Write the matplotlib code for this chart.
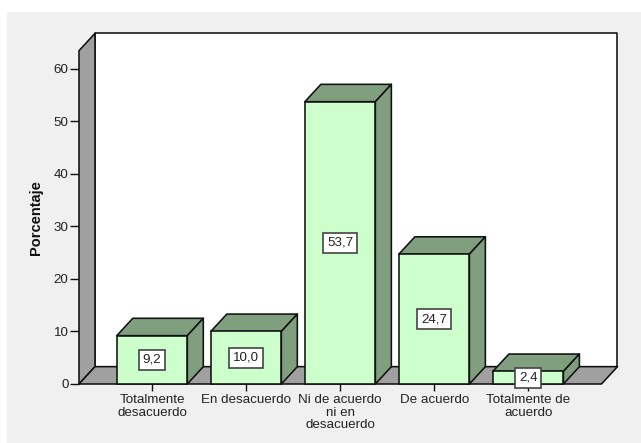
"""Bar chart with SPSS-style pseudo 3D boxes: Porcentaje per response."""

from __future__ import annotations

import matplotlib

matplotlib.use("Agg")
import matplotlib.pyplot as plt
from matplotlib.patches import Polygon, Rectangle

CATEGORIES = ["Totalmente\ndesacuerdo", "En desacuerdo", "Ni de acuerdo\nni en\ndesacuerdo",
              "De acuerdo", "Totalmente de\nacuerdo"]
VALUES = [9.2, 10.0, 53.7, 24.7, 2.4]
VALUE_LABELS = ["9,2", "10,0", "53,7", "24,7", "2,4"]
Y_TICKS = [0, 10, 20, 30, 40, 50, 60]

COLOR_BG = "#f0f0f0"
COLOR_WALL = "#a0a0a0"
COLOR_FRONT = "#ccffcc"
COLOR_SIDE = "#7f9f7f"
COLOR_LINE = "#111111"
COLOR_TEXT = "#222222"

# Pseudo 3D offset of the back plane, in data units
DEPTH_X = 0.17
DEPTH_Y = 3.3
BAR_WIDTH = 0.75
LW = 1.15

plt.rcParams["font.family"] = ["Liberation Sans", "DejaVu Sans"]


def add_poly(ax, points, color, zorder):
    ax.add_patch(Polygon(points, closed=True, facecolor=color, edgecolor=COLOR_LINE,
                         linewidth=LW, joinstyle="round", clip_on=False, zorder=zorder))


def draw_walls(ax):
    x0, x1 = ax.get_xlim()
    top = ax.get_ylim()[1]
    add_poly(ax, [(x0 + DEPTH_X, DEPTH_Y), (x1 + DEPTH_X, DEPTH_Y),
                  (x1 + DEPTH_X, top + DEPTH_Y), (x0 + DEPTH_X, top + DEPTH_Y)], "white", 1)
    add_poly(ax, [(x0, 0), (x0 + DEPTH_X, DEPTH_Y), (x0 + DEPTH_X, top + DEPTH_Y), (x0, top)],
             COLOR_WALL, 2)
    add_poly(ax, [(x0, 0), (x1, 0), (x1 + DEPTH_X, DEPTH_Y), (x0 + DEPTH_X, DEPTH_Y)],
             COLOR_WALL, 2)


def draw_box(ax, pos, value, zorder):
    left = pos - BAR_WIDTH / 2
    right = pos + BAR_WIDTH / 2
    add_poly(ax, [(left, value), (right, value), (right + DEPTH_X, value + DEPTH_Y),
                  (left + DEPTH_X, value + DEPTH_Y)], COLOR_SIDE, zorder)
    add_poly(ax, [(right, 0), (right + DEPTH_X, DEPTH_Y), (right + DEPTH_X, value + DEPTH_Y),
                  (right, value)], COLOR_SIDE, zorder)
    ax.add_patch(Rectangle((left, 0), BAR_WIDTH, value, facecolor=COLOR_FRONT,
                           edgecolor=COLOR_LINE, linewidth=LW, clip_on=False, zorder=zorder))


def main() -> None:
    fig = plt.figure(figsize=(6.41, 4.43), dpi=100, facecolor="white")
    fig.patches.append(Rectangle((7 / 641, 0), 634 / 641, 431 / 443, transform=fig.transFigure,
                                 facecolor=COLOR_BG, edgecolor="none", zorder=-5))

    ax = fig.add_axes([79 / 641, 59 / 443, 522.5 / 641, 333.3 / 443])
    ax.patch.set_visible(False)
    ax.set_xlim(-0.777, 4.78)
    ax.set_ylim(0, 63.4)
    for spine in ax.spines.values():
        spine.set_visible(False)

    draw_walls(ax)
    positions = range(len(VALUES))
    for pos, value, label in zip(positions, VALUES, VALUE_LABELS):
        draw_box(ax, pos, value, 3 + pos)
        ax.text(pos, value / 2, label, ha="center", va="center", fontsize=9.6, color=COLOR_TEXT,
                zorder=20, clip_on=False,
                bbox=dict(boxstyle="square,pad=0.3", facecolor="white", edgecolor="#444444",
                          linewidth=1.2))

    ax.set_xticks(list(positions))
    ax.set_xticklabels(CATEGORIES, fontsize=9.6, color=COLOR_TEXT, linespacing=1.02)
    ax.set_yticks(Y_TICKS)
    ax.tick_params(axis="y", length=6.5, width=1.0, color=COLOR_LINE, labelsize=9.6,
                   labelcolor=COLOR_TEXT, pad=1)
    ax.tick_params(axis="x", length=5, width=1.0, color=COLOR_LINE, pad=2.5)
    ax.set_ylabel("Porcentaje", fontsize=10.5, fontweight="bold", color="#111111", labelpad=8)

    fig.savefig("out.png", dpi=100, facecolor="white")
    plt.close(fig)


if __name__ == "__main__":
    main()
